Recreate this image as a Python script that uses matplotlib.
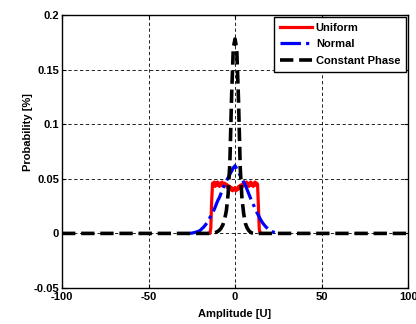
import numpy as np
import matplotlib
matplotlib.use('Agg')
import matplotlib.pyplot as plt

plt.rcParams['font.family'] = ['Liberation Sans', 'DejaVu Sans']
plt.rcParams['font.weight'] = 'bold'
plt.rcParams['axes.unicode_minus'] = False

# Uniform (red), 0.5 steps
uni_x = [-15, -14.5, -14, -13.5, -13, -12.5, -12, -11.5, -11, -10.5, -10, -9.5, -9, -8.5, -8,
         -7.5, -7, -6.5, -6, -5.5, -5, -4.5, -4, -3.5, -3, -2.5, -2, -1.5, -1, -0.5, 0,
         0.5, 1, 1.5, 2, 2.5, 3, 3.5, 4, 4.5, 5, 5.5, 6, 6.5, 7, 7.5, 8, 8.5, 9, 9.5, 10,
         10.5, 11, 11.5, 12, 12.5, 13, 13.5, 14, 14.5, 15]
uni_y = [0, 0, 0.005, 0.030, 0.046, 0.044, 0.047, 0.043, 0.046, 0.044, 0.047, 0.045, 0.043, 0.046, 0.044,
         0.047, 0.045, 0.043, 0.046, 0.044, 0.045, 0.042, 0.044, 0.041, 0.043, 0.040, 0.042, 0.039, 0.041, 0.040, 0.042,
         0.039, 0.041, 0.040, 0.043, 0.041, 0.044, 0.042, 0.045, 0.043, 0.046, 0.044, 0.045, 0.047, 0.044, 0.046, 0.043,
         0.045, 0.047, 0.044, 0.046, 0.043, 0.045, 0.047, 0.044, 0.046, 0.045, 0.025, 0.004, 0, 0]

# Normal (blue)
nor_x = list(range(-26, 27))
nor_y = [0, 0.0003, 0.0006, 0.001, 0.0015, 0.002, 0.003, 0.0045, 0.006, 0.008, 0.010, 0.013, 0.016,
         0.019, 0.022, 0.026, 0.030, 0.033, 0.037, 0.041, 0.045, 0.048, 0.051, 0.054, 0.057, 0.060,
         0.062,
         0.059, 0.056, 0.053, 0.050, 0.047, 0.044, 0.040, 0.036, 0.032, 0.028, 0.025, 0.021, 0.018,
         0.015, 0.012, 0.0095, 0.0075, 0.0057, 0.0042, 0.003, 0.002, 0.0013, 0.0008, 0.0004, 0.0002, 0]

# Constant Phase (black)
cp_x = [-100, -14, -13, -12, -11, -10, -9, -8, -7, -6, -5, -4, -3, -2, -1, 0,
        1, 2, 3, 4, 5, 6, 7, 8, 9, 10, 11, 100]
cp_y = [0, 0, 0.0002, 0.0005, 0.001, 0.0018, 0.003, 0.005, 0.008, 0.013, 0.021, 0.036, 0.064, 0.125, 0.17, 0.178,
        0.168, 0.122, 0.060, 0.032, 0.018, 0.009, 0.005, 0.0025, 0.001, 0.0003, 0, 0]

xticks = [-100, -50, 0, 50, 100]
yticks = [-0.05, 0, 0.05, 0.1, 0.15, 0.2]
ylabels = ['-0.05', '0', '0.05', '0.1', '0.15', '0.2']

fig = plt.figure(figsize=(4.16, 3.24), dpi=100)
ax = fig.add_axes([0.149, 0.111, 0.832, 0.843])

ax.plot(uni_x, uni_y, color='red', lw=2.3, label='Uniform')
ax.plot(nor_x, nor_y, color='blue', lw=2.3, linestyle='-.', label='Normal')
ax.plot(cp_x, cp_y, color='black', lw=2.6, linestyle='--', label='Constant Phase')

ax.set_xlim(-100, 100)
ax.set_ylim(-0.05, 0.2)
ax.set_xticks(xticks)
ax.set_yticks(yticks)
ax.set_yticklabels(ylabels)
ax.tick_params(direction='in', length=3, labelsize=8, top=True, right=True, pad=2)
ax.tick_params(axis='x', pad=3)
for lab in ax.get_xticklabels() + ax.get_yticklabels():
    lab.set_fontweight('bold')
ax.grid(True, color='black', linestyle=(0, (4, 3)), lw=0.6)
ax.set_axisbelow(True)
for s in ax.spines.values():
    s.set_linewidth(1.0)

ax.set_xlabel('Amplitude [U]', fontsize=8, fontweight='bold')
ax.set_ylabel('Probability [%]', fontsize=8, fontweight='bold')
ax.xaxis.set_label_coords(0.5, -0.075)
ax.yaxis.set_label_coords(-0.083, 0.57)

leg = ax.legend(loc='upper right', fontsize=8, fancybox=False, framealpha=1,
                edgecolor='black', borderaxespad=0.15, handlelength=2.9,
                labelspacing=0.6, handletextpad=0.35, borderpad=0.55)
leg.get_frame().set_linewidth(1.0)
for t in leg.get_texts():
    t.set_fontweight('bold')

fig.savefig('out.png', dpi=100)
